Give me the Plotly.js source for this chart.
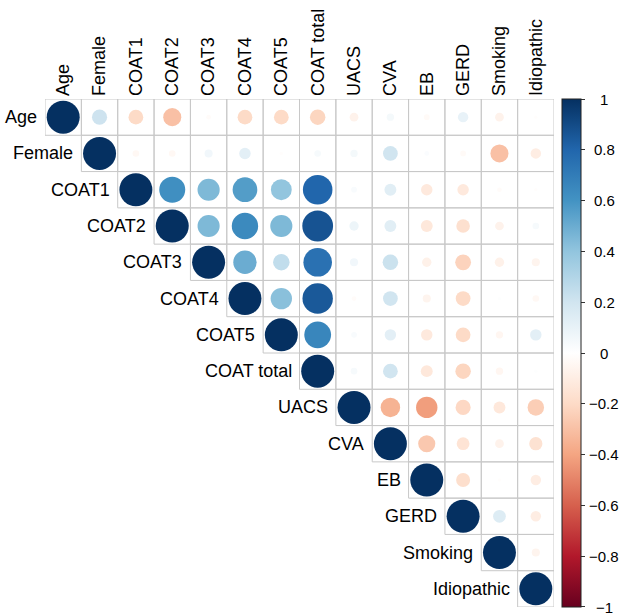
<!DOCTYPE html>
<html>
<head>
<meta charset="utf-8">
<script src="https://cdn.plot.ly/plotly-3.0.1.min.js"></script>
<style>html,body{margin:0;padding:0;background:#fff;}#chart{width:622px;height:615px;}</style>
</head>
<body>
<div id="chart"></div>
<script>
// Variable names (rows and columns)
const variables = ["Age","Female","COAT1","COAT2","COAT3","COAT4","COAT5","COAT total","UACS","CVA","EB","GERD","Smoking","Idiopathic"];

// Upper-triangle correlations, each row starting at the diagonal
const rowAge        = [1, 0.21, -0.20, -0.30, -0.02, -0.20, -0.20, -0.22, -0.07, 0.05, -0.03, 0.10, -0.07, -0.01];
const rowFemale     = [1, -0.04, -0.04, 0.06, 0.12, -0.01, 0.04, 0.05, 0.20, 0.02, -0.03, -0.30, -0.10];
const rowCOAT1      = [1, 0.62, 0.45, 0.56, 0.40, 0.80, 0.03, 0.13, -0.12, -0.12, -0.02, -0.01];
const rowCOAT2      = [1, 0.45, 0.64, 0.45, 0.87, 0.08, 0.13, -0.13, -0.17, -0.07, 0.04];
const rowCOAT3      = [1, 0.50, 0.25, 0.75, 0.06, 0.22, -0.08, -0.23, -0.08, -0.06];
const rowCOAT4      = [1, 0.42, 0.85, -0.02, 0.20, -0.06, -0.20, 0.01, -0.04];
const rowCOAT5      = [1, 0.66, 0.03, 0.12, -0.12, -0.20, -0.05, 0.12];
const rowCOATtotal  = [1, 0.04, 0.20, -0.13, -0.22, -0.05, 0.01];
const rowUACS       = [1, -0.35, -0.42, -0.21, -0.13, -0.25];
const rowCVA        = [1, -0.27, -0.15, -0.07, -0.16];
const rowEB         = [1, -0.18, -0.01, -0.10];
const rowGERD       = [1, 0.15, -0.10];
const rowSmoking    = [1, -0.06];
const rowIdiopathic = [1];

const rows = [rowAge,rowFemale,rowCOAT1,rowCOAT2,rowCOAT3,rowCOAT4,rowCOAT5,rowCOATtotal,rowUACS,rowCVA,rowEB,rowGERD,rowSmoking,rowIdiopathic];

const colorbarTicks = [-1,-0.8,-0.6,-0.4,-0.2,0,0.2,0.4,0.6,0.8,1];

const FONT = "'Liberation Sans', Arial, Helvetica, sans-serif";
const n = variables.length;
const xs = [], ys = [], vals = [], sizes = [];
const shapes = [];
const annotations = [];
const maxDiam = 33;

for (let i = 0; i < n; i++) {
  for (let j = i; j < n; j++) {
    const r = rows[i][j - i];
    xs.push(j); ys.push(i); vals.push(r);
    sizes.push(maxDiam * Math.sqrt(Math.abs(r)));
    shapes.push({type:'rect', xref:'x', yref:'y', x0:j-0.5, x1:j+0.5, y0:i-0.5, y1:i+0.5,
      line:{color:'#c8c8c8', width:1}, fillcolor:'rgba(0,0,0,0)', layer:'below'});
  }
  annotations.push({x:i-0.5, y:i, xref:'x', yref:'y', text:variables[i], showarrow:false,
    xanchor:'right', yanchor:'middle', xshift:-6, font:{family:FONT, size:18, color:'#000'}});
}

// Colour-bar labels, centred beside the bar (the bar spans the full plot height)
colorbarTicks.forEach(v => {
  annotations.push({xref:'paper', yref:'paper', x:1.099, y:(v + 1) / 2, showarrow:false,
    xanchor:'center', yanchor:'middle', text: v < 0 ? '\u2212' + Math.abs(v) : String(v),
    font:{family:FONT, size:15, color:'#000'}});
});

const colorscale = [
  [0.0,'#67001F'],[0.1,'#B2182B'],[0.2,'#D6604D'],[0.3,'#F4A582'],[0.4,'#FDDBC7'],
  [0.5,'#FFFFFF'],[0.6,'#D1E5F0'],[0.7,'#92C5DE'],[0.8,'#4393C3'],[0.9,'#2166AC'],[1.0,'#053061']
];

const cbTickVals = colorbarTicks.map(v => v === -1 ? -0.9995 : (v === 1 ? 0.9995 : v));

const trace = {
  type:'scatter', mode:'markers', x:xs, y:ys,
  marker:{
    size:sizes, color:vals, cmin:-1, cmax:1, colorscale:colorscale,
    line:{width:0}, opacity:1,
    showscale:true,
    colorbar:{
      x:1.0165, xanchor:'left', xpad:0, y:0.5, yanchor:'middle', ypad:0,
      len:1, lenmode:'fraction', thickness:19, thicknessmode:'pixels',
      outlinewidth:1, outlinecolor:'#222',
      tickmode:'array', tickvals:cbTickVals, showticklabels:false,
      ticks:'outside', ticklen:4, tickcolor:'#333'
    }
  },
  hoverinfo:'skip'
};

const layout = {
  width:622, height:615,
  margin:{l:45, r:68.4, t:99, b:8, pad:0},
  paper_bgcolor:'#fff', plot_bgcolor:'#fff',
  showlegend:false,
  xaxis:{
    range:[-0.5, n-0.5], side:'top', tickmode:'array', tickvals:variables.map((_,k)=>k), ticktext:variables,
    tickangle:-90, ticks:'', showgrid:false, zeroline:false, showline:false, fixedrange:true,
    ticklabelstandoff:2,
    tickfont:{family:FONT, size:18, color:'#000'}
  },
  yaxis:{
    range:[n-0.5, -0.5], showticklabels:false, ticks:'', showgrid:false, zeroline:false, showline:false, fixedrange:true
  },
  shapes:shapes,
  annotations:annotations
};

Plotly.newPlot('chart', [trace], layout, {displayModeBar:false, staticPlot:true});
</script>
</body>
</html>
